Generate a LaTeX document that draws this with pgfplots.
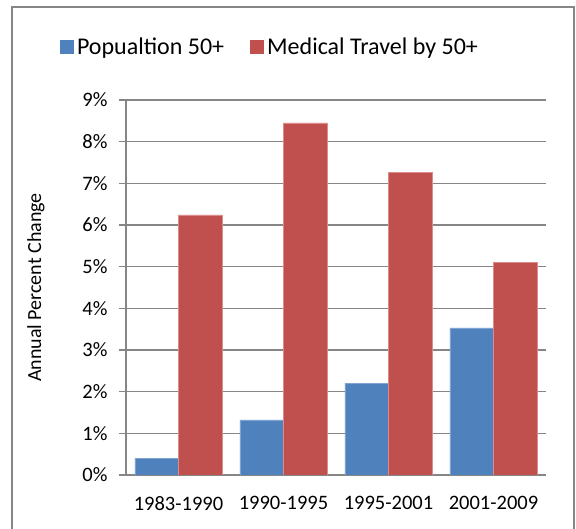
\documentclass[border=0pt]{standalone}
\usepackage{pgfplots}
\pgfplotsset{compat=1.18}
\usepackage{fontspec}
\setmainfont{Carlito}
\definecolor{xlblue}{HTML}{4F81BD}
\definecolor{xlred}{HTML}{C0504D}
\definecolor{xlblueedge}{HTML}{7FA3D3}
\definecolor{xlrededge}{HTML}{DC8C8A}
\definecolor{gridgray}{HTML}{868686}
\begin{document}
\begin{tikzpicture}[x=1pt,y=1pt]
\useasboundingbox (0,0) rectangle (576,529);
\draw[gridgray, line width=1.5pt] (12,522) rectangle (574,-10);
\begin{axis}[
  at={(126pt,54pt)}, anchor=south west,
  scale only axis, width=420pt, height=375pt,
  ybar=0pt, bar width=43.5pt,
  xmin=-0.5, xmax=3.5, ymin=0, ymax=9,
  axis lines=left,
  axis line style={draw=gridgray, line width=1.5pt, -},
  xtick={0,1,2,3},
  xticklabels={1983-1990,1990-1995,1995-2001,2001-2009},
  minor xtick={-0.5,0.5,1.5,2.5,3.5},
  ytick={0,1,...,9},
  yticklabels={0\%,1\%,2\%,3\%,4\%,5\%,6\%,7\%,8\%,9\%},
  tick align=outside,
  major tick length=7pt, minor tick length=7pt,
  xtick style={draw=none},
  minor tick style={draw=gridgray, line width=1.5pt},
  ytick style={draw=gridgray, line width=1.5pt},
  ymajorgrids,
  major grid style={draw=gridgray, line width=1.5pt},
  tick label style={font=\fontsize{20.5}{24}\selectfont, text=black},
  yticklabel style={xshift=-8pt},
  xticklabel style={yshift=-11pt},
  ylabel={Annual Percent Change},
  every axis y label/.style={at={(rel axis cs:0,0.5)}, rotate=90, anchor=center, yshift=90pt, font=\fontsize{20}{24}\selectfont},
  legend columns=2,
  legend style={at={(0.344,1.1413)}, anchor=center, draw=none, fill=none,
    font=\fontsize{24}{28}\selectfont,
    /tikz/every even column/.append style={column sep=23pt},
    nodes={inner xsep=3pt}},
  legend image code/.code={\fill[#1, draw=none] (-4pt,-7pt) rectangle (10pt,7pt);},
]
\addplot[fill=xlblue, draw=xlblueedge, line width=0.75pt] coordinates {(0,0.40) (1,1.32) (2,2.20) (3,3.53)};
\addplot[fill=xlred, draw=xlrededge, line width=0.75pt] coordinates {(0,6.24) (1,8.45) (2,7.26) (3,5.10)};
\legend{Popualtion 50+, Medical Travel by 50+}
\end{axis}
\end{tikzpicture}
\end{document}
